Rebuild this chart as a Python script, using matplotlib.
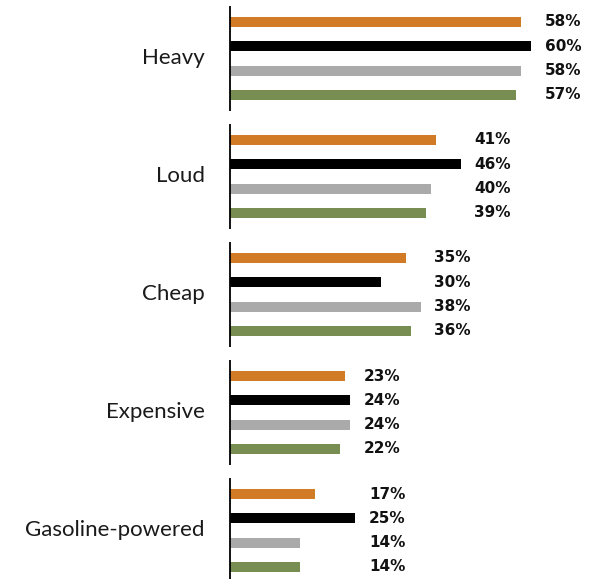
import numpy as np
import matplotlib.pyplot as plt

categories = ["Heavy", "Loud", "Cheap", "Expensive", "Gasoline-powered"]
series_colors = ["#D17B27", "#000000", "#AAAAAA", "#788D52"]
# four series per category, top to bottom
vals_orange = [58, 41, 35, 23, 17]
vals_black = [60, 46, 30, 24, 25]
vals_gray = [58, 40, 38, 24, 14]
vals_green = [57, 39, 36, 22, 14]
series = [vals_orange, vals_black, vals_gray, vals_green]

plt.rcParams['font.family'] = ['Lato', 'DejaVu Sans']

fig = plt.figure(figsize=(5.96, 5.79), dpi=100)
# axes spans x 230..592 px, y 0..579 px
ax = fig.add_axes([230 / 596, 0, 362 / 596, 1])

scale = 5.02  # px per percent
group_step = 1.0
bar_step = 0.206
bar_h = 0.085
px = group_step / 118.0  # one pixel in y data units

for i, cat in enumerate(categories):
    y0 = i * group_step
    ys = [y0 + j * bar_step for j in range(4)]
    vals = [s[i] for s in series]
    ax.barh(ys, vals, height=bar_h, color=series_colors)
    lab_x = max(vals) + 2.7
    for y, v in zip(ys, vals):
        ax.text(lab_x, y, f"{v}%", ha='left', va='center',
                fontsize=11, fontweight='bold', color='#111111',
                family='DejaVu Sans')
    # axis segment for this group
    ax.plot([0, 0], [ys[0] - 16 * px, ys[-1] + 16 * px], color='black',
            lw=1.3, solid_capstyle='butt', clip_on=False)
    ax.text(-25 / scale, (ys[1] + ys[2]) / 2, cat, ha='right', va='center',
            fontsize=16, color='#1a1a1a')

top = -22 * px
ax.set_ylim(top + 579 * px, top)
ax.set_xlim(0, 362 / scale)
ax.axis('off')

fig.savefig("out.png", dpi=100)
